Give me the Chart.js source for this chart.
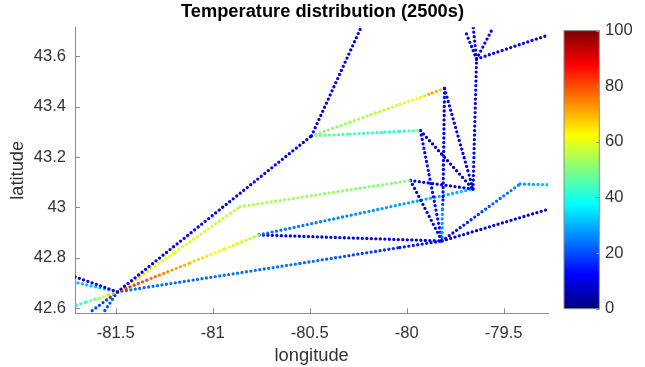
<!DOCTYPE html>
<html>
<head>
<meta charset="utf-8">
<script src="https://cdn.jsdelivr.net/npm/chart.js@4.4.1/dist/chart.umd.min.js"></script>
<style>
  html, body { margin: 0; padding: 0; background: #fff; }
</style>
</head>
<body>
<canvas id="tempChart" width="645" height="367"></canvas>
<script>
// axis ticks
const lonTicks = [-81.5, -81, -80.5, -80, -79.5];
const latTicks = [42.6, 42.8, 43, 43.2, 43.4, 43.6];
const tempTicks = [0, 20, 40, 60, 80, 100];

// network nodes [longitude, latitude]
const A = [-81.491, 42.665];   // south-west hub
const B = [-80.491, 43.284];
const C = [-80.859, 43.003];
const D = [-79.981, 43.107];
const E = [-80.762, 42.891];
const G = [-79.658, 43.073];
const H = [-79.818, 42.867];   // south-east hub
const I = [-79.805, 43.472];
const J = [-79.929, 43.305];
const K = [-79.640, 43.589];
const L = [-79.416, 43.093];

// lines: [longitude, latitude, temperature] at points where the colour changes
const hubNorth = [[...A, 12], [...B, 11], [-80.235, 43.715, 11]];
const hubToD = [[...A, 70], [-81.375, 42.727, 66], [-81.194, 42.823, 61], [...C, 55], [...D, 50]];
const hubToE = [[...A, 86], [-81.339, 42.712, 78], [-81.117, 42.780, 68], [-80.937, 42.836, 60], [...E, 55]];
const hubToH = [[...A, 23], [-80.550, 42.778, 24], [-80.035, 42.841, 16], [...H, 12]];
const westBlue = [[...A, 13], [-81.71, 42.725, 12]];
const westCyan = [[...A, 33], [-81.71, 42.703, 31]];
const westGreen = [[...A, 70], [-81.540, 42.652, 66], [-81.607, 42.636, 50], [-81.658, 42.623, 44], [-81.71, 42.610, 40]];
const southA = [[...A, 19], [-81.640, 42.58, 19]];
const southB = [[...A, 20], [-81.566, 42.58, 21]];
const bToI = [[...B, 50], [-80.292, 43.338, 53], [-80.034, 43.409, 59], [-79.930, 43.437, 63], [-79.869, 43.454, 72], [...I, 66]];
const bToJ = [[...B, 49], [-80.292, 43.291, 45], [-80.112, 43.299, 40], [-80.035, 43.302, 41], [...J, 47]];
const iToH = [[...I, 12], [-79.813, 43.030, 13], [-79.816, 42.990, 27], [-79.818, 42.899, 28], [...H, 20]];
const iToG = [[...I, 11], [...G, 10]];
const jToH = [[...J, 12], [...H, 14]];
const jToG = [[...J, 6], [...G, 6]];
const dToG = [[...D, 10], [...G, 10]];
const dToH = [[...D, 12], [...H, 12]];
const eToG = [[...E, 23], [...G, 31]];
const eToH = [[...E, 10], [...H, 10]];
const gToK = [[...G, 12], [...K, 12]];
const kWest = [[...K, 12], [-79.700, 43.704, 12]];
const kNorth = [[...K, 12], [-79.657, 43.715, 12]];
const kNorthEast = [[...K, 12], [-79.554, 43.715, 12]];
const kEast = [[...K, 12], [-79.27, 43.684, 12]];
const hToL = [[...H, 10], [...L, 27], [-79.27, 43.090, 32]];
const hEast = [[...H, 9], [-79.27, 42.993, 9]];

const allLines = [hubNorth, hubToD, hubToE, hubToH, westBlue, westCyan, westGreen, southA, southB,
  bToI, bToJ, iToH, iToG, jToH, jToG, dToG, dToH, eToG, eToH, gToK, kWest, kNorth, kNorthEast, kEast, hToL, hEast];

const LON_MIN = -81.71, LON_MAX = -79.27;
const LAT_MIN = 42.58, LAT_MAX = 43.715;
const T_MIN = 0, T_MAX = 100;

// MATLAB jet colormap
function jet(v) {
  const t = Math.min(1, Math.max(0, (v - T_MIN) / (T_MAX - T_MIN)));
  const c = x => Math.round(255 * Math.min(1, Math.max(0, x)));
  return 'rgb(' + c(1.5 - Math.abs(4 * t - 3)) + ',' + c(1.5 - Math.abs(4 * t - 2)) + ',' + c(1.5 - Math.abs(4 * t - 1)) + ')';
}

function segGradient(ctx, x0, y0, x1, y1, t0, t1) {
  const g = ctx.createLinearGradient(x0, y0, x1, y1);
  for (let k = 0; k <= 10; k++) g.addColorStop(k / 10, jet(t0 + (t1 - t0) * k / 10));
  return g;
}

// one dataset per piece so every piece gets its own gradient
const datasets = [];
allLines.forEach(nodes => {
  for (let i = 0; i < nodes.length - 1; i++) {
    const a = nodes[i], b = nodes[i + 1];
    datasets.push({
      data: [{x: a[0], y: a[1]}, {x: b[0], y: b[1]}],
      borderColor: jet(a[2]),
      segment: {
        borderColor: c => segGradient(c.chart.ctx, c.p0.x, c.p0.y, c.p1.x, c.p1.y, a[2], b[2])
      },
      borderWidth: 3.3,
      borderDash: [0, 4.5],
      borderCapStyle: 'round',
      pointRadius: 0,
      pointHoverRadius: 0,
      tension: 0,
      fill: false
    });
  }
});

const axisColor = '#8c8c8c';
const textColor = '#333333';

// MATLAB style inward tick marks + colorbar
const matlabPlugin = {
  id: 'matlab',
  afterDraw(chart) {
    const ctx = chart.ctx;
    const xs = chart.scales.x, ys = chart.scales.y, cb = chart.scales.cb;
    const area = chart.chartArea;
    ctx.save();
    ctx.strokeStyle = axisColor;
    ctx.lineWidth = 1;
    ctx.beginPath();
    lonTicks.forEach(v => {
      const px = Math.round(xs.getPixelForValue(v)) + 0.5;
      ctx.moveTo(px, area.bottom);
      ctx.lineTo(px, area.bottom - 5);
    });
    latTicks.forEach(v => {
      const py = Math.round(ys.getPixelForValue(v)) + 0.5;
      ctx.moveTo(area.left, py);
      ctx.lineTo(area.left + 5, py);
    });
    ctx.stroke();

    // colorbar
    const top = cb.getPixelForValue(T_MAX), bottom = cb.getPixelForValue(T_MIN);
    const x0 = cb.left + 15.7, w = 35.3;
    const grad = ctx.createLinearGradient(0, bottom, 0, top);
    for (let k = 0; k <= 64; k++) grad.addColorStop(k / 64, jet(T_MIN + (T_MAX - T_MIN) * k / 64));
    ctx.fillStyle = grad;
    ctx.fillRect(x0, top, w, bottom - top);
    ctx.strokeStyle = axisColor;
    ctx.strokeRect(x0, top, w, bottom - top);
    ctx.beginPath();
    tempTicks.forEach(v => {
      const py = Math.round(cb.getPixelForValue(v)) + 0.5;
      ctx.moveTo(x0 + w, py);
      ctx.lineTo(x0 + w - 3, py);
    });
    ctx.stroke();
    ctx.restore();
  }
};

Chart.defaults.font.family = '"Liberation Sans", Arial, sans-serif';
Chart.defaults.color = textColor;

new Chart(document.getElementById('tempChart'), {
  type: 'line',
  data: { datasets: datasets },
  options: {
    responsive: false,
    animation: false,
    events: [],
    layout: { padding: 0 },
    plugins: {
      legend: { display: false },
      tooltip: { enabled: false },
      title: {
        display: true,
        text: 'Temperature distribution (2500s)',
        color: '#000000',
        font: { size: 18.3, weight: 'bold' },
        padding: { top: 0.5, bottom: 4.8 }
      }
    },
    scales: {
      x: {
        type: 'linear',
        position: 'bottom',
        min: LON_MIN,
        max: LON_MAX,
        afterBuildTicks: s => { s.ticks = lonTicks.map(v => ({ value: v })); },
        afterFit: s => { s.height = 53.7; },
        ticks: { font: { size: 16.6 }, padding: 10, maxRotation: 0, autoSkip: false, callback: v => String(v) },
        grid: { display: false, drawTicks: false },
        border: { display: true, color: axisColor, width: 1 },
        title: { display: true, text: 'longitude', font: { size: 18.3 }, padding: { top: 0, bottom: 0 } }
      },
      y: {
        type: 'linear',
        position: 'left',
        min: LAT_MIN,
        max: LAT_MAX,
        afterBuildTicks: s => { s.ticks = latTicks.map(v => ({ value: v })); },
        afterFit: s => { s.width = 75; },
        ticks: { font: { size: 16.6 }, padding: 9, autoSkip: false, callback: v => String(v) },
        grid: { display: false, drawTicks: false },
        border: { display: true, color: axisColor, width: 1 },
        title: { display: true, text: 'latitude', font: { size: 18.3 }, padding: { top: 7, bottom: 0 } }
      },
      cb: {
        type: 'linear',
        position: 'right',
        min: -1.65,
        max: 101.22,
        afterBuildTicks: s => { s.ticks = tempTicks.map(v => ({ value: v })); },
        afterFit: s => { s.width = 96.7; },
        // hidden tick length pushes the labels past the colorbar
        ticks: { font: { size: 16.6 }, padding: 0, autoSkip: false, callback: v => String(v) },
        grid: { display: false, drawTicks: true, tickLength: 56.7 },
        border: { display: false }
      }
    }
  },
  plugins: [matlabPlugin]
});
</script>
</body>
</html>
